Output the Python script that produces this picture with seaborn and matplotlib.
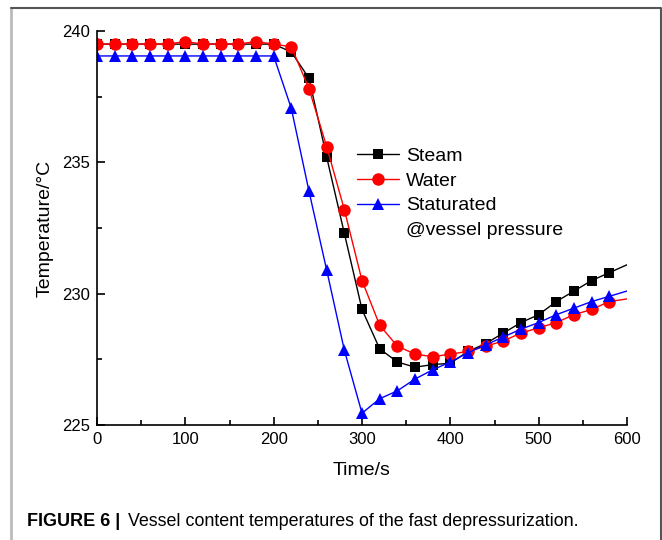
import matplotlib
matplotlib.use("Agg")
import matplotlib.pyplot as plt
import seaborn as sns
from matplotlib.lines import Line2D
from matplotlib.ticker import MultipleLocator

# time axis (s); markers every 20 s, last point (600) is line only
time = [0, 20, 40, 60, 80, 100, 120, 140, 160, 180, 200,
        220, 240, 260, 280, 300, 320, 340, 360, 380, 400,
        420, 440, 460, 480, 500, 520, 540, 560, 580, 600]

steam = [239.5, 239.5, 239.5, 239.5, 239.5, 239.5, 239.5, 239.5, 239.5, 239.5, 239.5,
         239.2, 238.2, 235.2, 232.3, 229.4, 227.9, 227.4, 227.2, 227.3, 227.35,
         227.8, 228.1, 228.5, 228.9, 229.2, 229.7, 230.1, 230.5, 230.8, 231.1]

water = [239.5, 239.5, 239.5, 239.5, 239.5, 239.6, 239.5, 239.5, 239.5, 239.6, 239.5,
         239.4, 237.8, 235.6, 233.2, 230.5, 228.8, 228.0, 227.7, 227.6, 227.7,
         227.8, 228.0, 228.2, 228.5, 228.7, 228.9, 229.2, 229.4, 229.7, 229.8]

saturated = [239.05, 239.05, 239.05, 239.05, 239.05, 239.05, 239.05, 239.05, 239.05, 239.05, 239.05,
             237.05, 233.9, 230.9, 227.85, 225.45, 226.0, 226.3, 226.75, 227.1, 227.4,
             227.75, 228.05, 228.35, 228.65, 228.9, 229.2, 229.45, 229.7, 229.9, 230.1]

labels = ["Steam", "Water", "Staturated", "@vessel pressure"]

sns.set_style("ticks")
plt.rcParams["font.family"] = ["Liberation Sans", "DejaVu Sans"]
plt.rcParams.update({"text.color": "black", "axes.labelcolor": "black",
                     "xtick.color": "black", "ytick.color": "black"})

fig = plt.figure(figsize=(6.62, 5.4), dpi=100)
ax = fig.add_axes([97 / 662, 1 - 425 / 540, 530 / 662, 394 / 540])

series = [(steam, "black", "s", 7.5), (water, "red", "o", 9), (saturated, "blue", "^", 9)]
handles = []
for vals, col, mk, ms in series:
    sns.lineplot(x=time, y=vals, color=col, linewidth=1, marker=mk, markersize=ms,
                 markeredgewidth=0, markevery=slice(0, 30), ax=ax)
    handles.append(Line2D([], [], color=col, linewidth=1, marker=mk,
                          markersize=ms, markeredgewidth=0))
# second line of the third label, no handle
handles.append(Line2D([], [], linestyle="none", marker=None))

ax.set_xlim(0, 600)
ax.set_ylim(225, 240)
ax.xaxis.set_major_locator(MultipleLocator(100))
ax.xaxis.set_minor_locator(MultipleLocator(50))
ax.yaxis.set_major_locator(MultipleLocator(5))
ax.yaxis.set_minor_locator(MultipleLocator(2.5))
ax.tick_params(which="both", direction="in", width=1.2, labelsize=12, colors="black")
ax.tick_params(which="major", length=6, pad=5)
ax.tick_params(which="minor", length=3.5)
for s in ["top", "right"]:
    ax.spines[s].set_visible(False)
for s in ["left", "bottom"]:
    ax.spines[s].set_linewidth(1.2)
    ax.spines[s].set_color("black")

ax.set_xlabel("Time/s", fontsize=14, labelpad=11)
ax.set_ylabel("Temperature/°C", fontsize=14, labelpad=6)

leg = ax.legend(handles, labels, loc="upper left", bbox_to_anchor=(0.49, 0.705),
                frameon=False, fontsize=14, handlelength=2.2, handletextpad=0.35,
                labelspacing=0.37, borderpad=0, borderaxespad=0)

# page frame
fig.add_artist(Line2D([11 / 662, 11 / 662], [0, 1 - 8 / 540], color="#bbbbbb",
                      linewidth=2, transform=fig.transFigure))
fig.add_artist(Line2D([11 / 662, 660.5 / 662, 660.5 / 662], [1 - 8 / 540, 1 - 8 / 540, 0],
                      color="#555555", linewidth=1.5, transform=fig.transFigure))

fig.text(27 / 662, 1 - 521 / 540, "FIGURE 6 |", fontsize=13, fontweight="bold",
         va="center", ha="left")
fig.text(128 / 662, 1 - 521 / 540, "Vessel content temperatures of the fast depressurization.",
         fontsize=12.9, va="center", ha="left")

fig.savefig("out.png", dpi=100)
